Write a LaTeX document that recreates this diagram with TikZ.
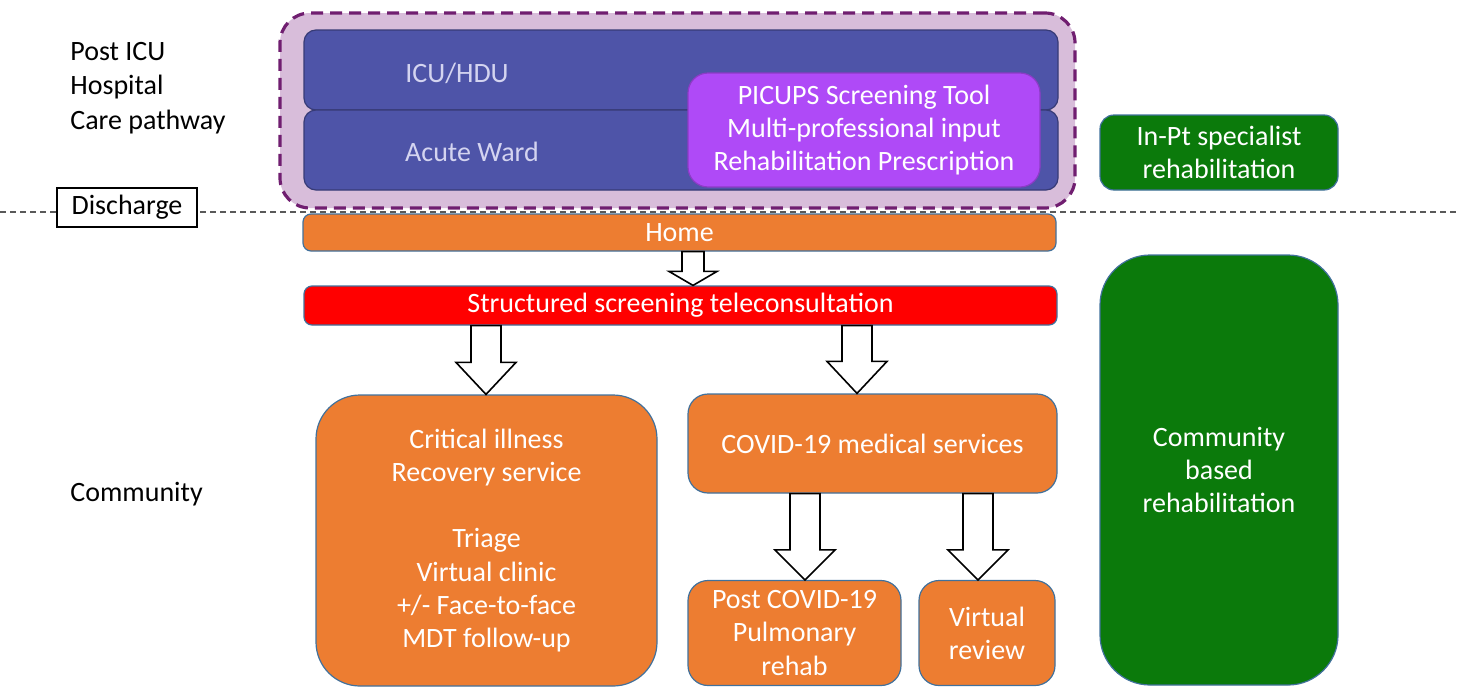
\documentclass[tikz,border=0pt]{standalone}
\usepackage{fontspec}
\setmainfont{Carlito}
\usetikzlibrary{positioning, calc}

\definecolor{regionfill}{HTML}{D8BDDA}
\definecolor{regionline}{HTML}{701E70}
\definecolor{wardblue}{HTML}{4E54A8}
\definecolor{wardtext}{HTML}{D4D4F0}
\definecolor{picupsviolet}{HTML}{AF4AF7}
\definecolor{careorange}{HTML}{ED7D31}
\definecolor{rehabgreen}{HTML}{0B7A0B}
\definecolor{edgeblue}{HTML}{41719C}

% block arrow: tail point, tip point, shaft half width, head half width, head length
\newcommand{\bigarrow}[5]{%
  \draw[blockarrow] let \p1=#1, \p2=#2 in
    (\x1-#3,\y1) -- (\x1-#3,\y2+#5) -- (\x1-#4,\y2+#5) -- (\x1,\y2)
    -- (\x1+#4,\y2+#5) -- (\x1+#3,\y2+#5) -- (\x1+#3,\y1) -- cycle;}

\begin{document}
\begin{tikzpicture}[
    x=0.5pt, y=-0.5pt,
    font=\fontsize{14}{16.6}\selectfont,
    box/.style={rectangle, draw=edgeblue, line width=0.6pt, inner sep=2pt, align=center, text=white},
    ward/.style={box, fill=wardblue, draw=wardblue!70!black, rounded corners=6pt, minimum width=377pt, minimum height=40pt},
    care/.style={box, fill=careorange, rounded corners=10pt},
    rehab/.style={box, fill=rehabgreen, rounded corners=7pt, minimum width=119pt},
    side/.style={align=left, anchor=west, inner sep=0pt},
    blockarrow/.style={draw=black, fill=white, line width=0.8pt, line join=miter},
]
\useasboundingbox (0,0) rectangle (1459,686);

%% NODES
    % hospital stay
    \node[rectangle, draw=regionline, fill=regionfill, line width=1.6pt, dash pattern=on 6pt off 3.5pt,
          rounded corners=15pt, minimum width=397.5pt, minimum height=97.5pt] (hospital) at (677.5,110.5) {};
    \node[ward] (icu) at (681,70) {};
    \node[ward] (acute) at (681,150) {};
    \node[text=wardtext] (icu_text) at (457,73) {ICU/HDU};
    \node[text=wardtext] (acute_text) at (472,152) {Acute Ward};
    \node[box, fill=picupsviolet, draw=picupsviolet!80!black, rounded corners=10pt,
          minimum width=176pt, minimum height=57pt] (picups) at (864,130)
          {PICUPS Screening Tool\\Multi-professional input\\Rehabilitation Prescription};

    % side labels
    \node[side, font=\fontsize{14}{17.2}\selectfont] (pathway) at (70,88) {Post ICU\\Hospital\\Care pathway};
    \node[side] (community) at (70,494) {Community};

    % discharge line
    \coordinate (line_start) at (0,212);
    \coordinate (line_end) at (1459,212);
    \draw[dashed, gray!70!black, line width=0.6pt, dash pattern=on 3pt off 2pt] (line_start) -- (line_end);
    \node[rectangle, draw=black, fill=white, line width=0.6pt, minimum width=70pt, minimum height=19.5pt] (discharge) at (127,207.5) {Discharge};

    % community pathway
    \node[care, rounded corners=4pt, minimum width=376.5pt, minimum height=18.5pt] (home) at (679.5,232.5) {Home};
    \node[box, fill=red, rounded corners=4pt, minimum width=376.5pt, minimum height=19.5pt] (screening) at (680.5,305.5) {Structured screening teleconsultation};
    \node[care, rounded corners=22pt, minimum width=170.5pt, minimum height=145.5pt] (recovery) at (486.5,540.5)
          {Critical illness\\Recovery service\\[16.6pt]Triage\\Virtual clinic\\+/- Face-to-face\\MDT follow-up};
    \node[care, minimum width=184.5pt, minimum height=49.5pt] (covid) at (872.5,443.5) {COVID-19 medical services};
    \node[care, minimum width=106.5pt, minimum height=52.5pt] (pulmonary) at (794.5,633) {Post COVID-19\\Pulmonary\\rehab};
    \node[care, minimum width=68pt, minimum height=52.5pt] (virtual) at (987,633) {Virtual\\review};

    % rehabilitation
    \node[rehab, minimum height=37.5pt] (inpatient) at (1219,152.5) {In-Pt specialist\\rehabilitation};
    \node[rehab, rounded corners=25pt, minimum height=215pt] (community_rehab) at (1219,470) {Community\\based\\rehabilitation};

%% CONNECTIONS
    \bigarrow{([xshift=6.75pt]home.south)}{(screening.north)}{5.5pt}{12pt}{7pt}
    \bigarrow{([xshift=-97.25pt]screening.south)}{(recovery.north)}{7.5pt}{15pt}{16pt}
    \bigarrow{([xshift=88.25pt]screening.south)}{(covid.north)}{7.5pt}{15pt}{16pt}
    \bigarrow{([xshift=-33.75pt]covid.south)}{(pulmonary.north)}{7.5pt}{15pt}{15pt}
    \bigarrow{([xshift=52.75pt]covid.south)}{(virtual.north)}{7.5pt}{15pt}{15pt}

\end{tikzpicture}
\end{document}
